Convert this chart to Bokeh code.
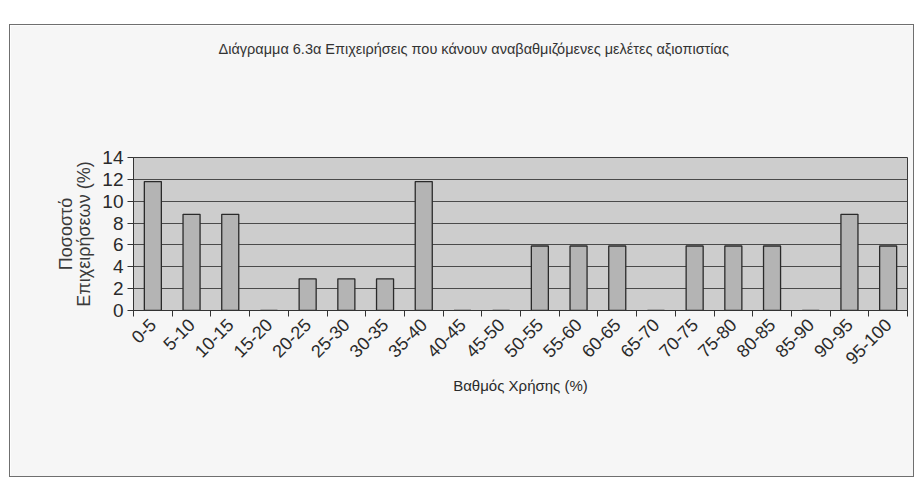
from math import pi
from bokeh.plotting import figure
from bokeh.models import FixedTicker, Range1d
from bokeh.embed import file_html
from bokeh.resources import INLINE

categories = ["0-5", "5-10", "10-15", "15-20", "20-25", "25-30", "30-35", "35-40",
              "40-45", "45-50", "50-55", "55-60", "60-65", "65-70", "70-75", "75-80",
              "80-85", "85-90", "90-95", "95-100"]
values = [11.8, 8.8, 8.8, 0, 2.9, 2.9, 2.9, 11.8, 0, 0,
          5.9, 5.9, 5.9, 0, 5.9, 5.9, 5.9, 0, 8.8, 5.9]
y_ticks = [0, 2, 4, 6, 8, 10, 12, 14]
title_text = "Διάγραμμα 6.3α Επιχειρήσεις που κάνουν αναβαθμιζόμενες μελέτες αξιοπιστίας"
x_title = "Βαθμός Χρήσης (%)"
y_title = "Ποσοστό\nΕπιχειρήσεων (%)"

FONT = "Liberation Sans"
positions = list(range(len(categories)))
boundaries = [x - 0.5 for x in positions] + [positions[-1] + 0.5]

W, H = 903, 451
p = figure(width=W, height=H, output_backend="svg", toolbar_location=None,
           x_range=Range1d(-0.5, len(categories) - 0.5), y_range=Range1d(0, 14),
           min_border_left=123, min_border_right=6, min_border_top=132, min_border_bottom=166)
p.margin = (25, 0, 0, 10)
p.styles = {"outline": "1px solid #6f6f6f"}
p.border_fill_color = "#f6f6f6"
p.background_fill_color = "#cdcdcd"
p.outline_line_color = "#3a3a3a"
p.outline_line_width = 1

# title: blank lines below push the visible line up, away from the plot frame
p.title.text = title_text + "\n\u00a0" * 6
p.title.align = "left"
p.title.offset = 85
p.title.standoff = 0
p.title.text_font = FONT
p.title.text_font_size = "14.5px"
p.title.text_font_style = "normal"
p.title.text_color = "#333333"
p.title.text_line_height = 1.05

p.vbar(x=positions, top=values, width=0.44, fill_color="#b4b4b4",
       line_color="#2a2a2a", line_width=1.3)

p.xgrid.grid_line_color = None
p.ygrid.ticker = FixedTicker(ticks=y_ticks)
p.ygrid.grid_line_color = "#4a4a4a"
p.ygrid.grid_line_width = 1

yax = p.yaxis[0]
yax.ticker = FixedTicker(ticks=y_ticks)
yax.major_label_text_font = FONT
yax.major_label_text_font_size = "19px"
yax.major_label_text_color = "#2a2a2a"
yax.major_tick_in = 0
yax.major_tick_out = 6
yax.minor_tick_line_color = None
yax.axis_line_color = "#333333"
yax.major_tick_line_color = "#333333"
yax.major_label_standoff = 4
yax.axis_label = y_title
yax.axis_label_text_font = FONT
yax.axis_label_text_font_size = "18px"
yax.axis_label_text_font_style = "normal"
yax.axis_label_text_color = "#3a3a3a"
yax.axis_label_text_line_height = 0.9
yax.axis_label_standoff = 5

xax = p.xaxis[0]
xax.ticker = FixedTicker(ticks=positions, minor_ticks=boundaries)
xax.major_label_overrides = {pos: cat for pos, cat in zip(positions, categories)}
xax.major_label_orientation = pi / 4
xax.major_label_text_font = FONT
xax.major_label_text_font_size = "18px"
xax.major_label_text_color = "#2a2a2a"
xax.major_label_standoff = 5
xax.major_tick_line_color = None
xax.minor_tick_in = 0
xax.minor_tick_out = 6
xax.minor_tick_line_color = "#333333"
xax.axis_line_color = "#333333"
xax.axis_label = x_title
xax.axis_label_text_font = FONT
xax.axis_label_text_font_size = "15px"
xax.axis_label_text_font_style = "normal"
xax.axis_label_text_color = "#2a2a2a"
xax.axis_label_standoff = 4

open("out.html", "w").write(file_html(p, INLINE))
